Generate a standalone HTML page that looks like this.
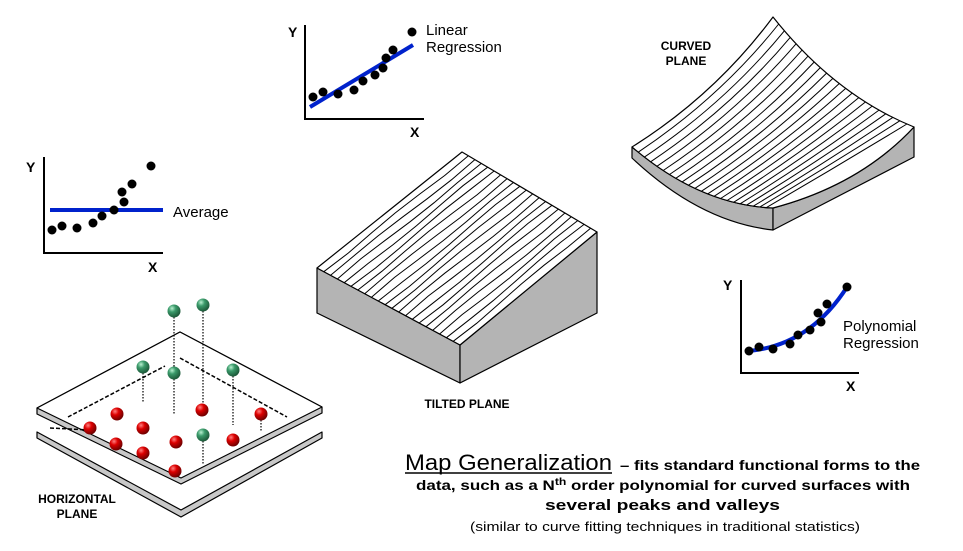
<!DOCTYPE html>
<html><head><meta charset="utf-8"><style>
html,body{margin:0;padding:0;background:#fff;}
svg{display:block;font-family:"Liberation Sans",Arial,sans-serif;}
</style></head><body>
<svg id="s" width="963" height="551" viewBox="0 0 963 551" xmlns="http://www.w3.org/2000/svg">
<defs>
<radialGradient id="gr" cx="0.35" cy="0.3" r="0.7"><stop offset="0" stop-color="#ff8080"/><stop offset="0.4" stop-color="#dd0000"/><stop offset="1" stop-color="#700000"/></radialGradient>
<radialGradient id="gg" cx="0.35" cy="0.3" r="0.7"><stop offset="0" stop-color="#b8f0d0"/><stop offset="0.4" stop-color="#3a9a6a"/><stop offset="1" stop-color="#1d5a3a"/></radialGradient>
</defs>

<g>
<polyline points="305,25 305,119 424,119" fill="none" stroke="#000" stroke-width="2"/>
<line x1="310" y1="107" x2="413" y2="45" stroke="#0022cc" stroke-width="4"/>
<g fill="#000">
<circle cx="313" cy="97" r="4.5"/><circle cx="323" cy="92" r="4.5"/><circle cx="338" cy="94" r="4.5"/><circle cx="354" cy="90" r="4.5"/><circle cx="363" cy="81" r="4.5"/><circle cx="375" cy="75" r="4.5"/><circle cx="383" cy="68" r="4.5"/><circle cx="386" cy="58" r="4.5"/><circle cx="393" cy="50" r="4.5"/><circle cx="412" cy="32" r="4.5"/>
</g>
<text x="288" y="37" font-size="14" font-weight="bold">Y</text>
<text x="410" y="137" font-size="14" font-weight="bold">X</text>
<text x="426" y="35" font-size="15">Linear</text>
<text x="426" y="52" font-size="15">Regression</text>
</g>

<g>
<polyline points="44,157 44,253 163,253" fill="none" stroke="#000" stroke-width="2"/>
<line x1="50" y1="210" x2="163" y2="210" stroke="#0022cc" stroke-width="4"/>
<g fill="#000">
<circle cx="52" cy="230" r="4.5"/><circle cx="62" cy="226" r="4.5"/><circle cx="77" cy="228" r="4.5"/><circle cx="93" cy="223" r="4.5"/><circle cx="102" cy="216" r="4.5"/><circle cx="114" cy="210" r="4.5"/><circle cx="124" cy="202" r="4.5"/><circle cx="122" cy="192" r="4.5"/><circle cx="132" cy="184" r="4.5"/><circle cx="151" cy="166" r="4.5"/>
</g>
<text x="26" y="172" font-size="14" font-weight="bold">Y</text>
<text x="148" y="272" font-size="14" font-weight="bold">X</text>
<text x="173" y="217" font-size="15">Average</text>
</g>

<g>
<polyline points="741,280 741,373 859,373" fill="none" stroke="#000" stroke-width="2"/>
<path d="M749,351 Q810,345 847,287" fill="none" stroke="#0022cc" stroke-width="4"/>
<g fill="#000">
<circle cx="749" cy="351" r="4.5"/><circle cx="759" cy="347" r="4.5"/><circle cx="773" cy="349" r="4.5"/><circle cx="790" cy="344" r="4.5"/><circle cx="798" cy="335" r="4.5"/><circle cx="810" cy="330" r="4.5"/><circle cx="821" cy="322" r="4.5"/><circle cx="818" cy="313" r="4.5"/><circle cx="827" cy="304" r="4.5"/><circle cx="847" cy="287" r="4.5"/>
</g>
<text x="723" y="290" font-size="14" font-weight="bold">Y</text>
<text x="846" y="391" font-size="14" font-weight="bold">X</text>
<text x="843" y="331" font-size="15">Polynomial</text>
<text x="843" y="348" font-size="15">Regression</text>
</g>

<g stroke="#000" stroke-width="1.2" stroke-linejoin="round">
<polygon points="317,268 460,345 460,383 317,313" fill="#b4b4b4"/>
<polygon points="460,345 597,232 597,313 460,383" fill="#b4b4b4"/>
<polygon points="317,268 462,152 597,232 460,345" fill="#fff"/>
</g>
<g id="tilt" stroke="#000" stroke-width="1" fill="none"></g>

<g stroke="#000" stroke-width="1.2" stroke-linejoin="round">
<path d="M632,147 Q700,205 773,208 L773,230 Q700,222 632,158 Z" fill="#b4b4b4"/>
<path d="M773,208 Q860,185 914,127 L914,157 L773,230 Z" fill="#b4b4b4"/>
<path d="M632,147 Q715,95 773,17 Q835,95 914,127 Q860,185 773,208 Q700,205 632,147 Z" fill="#fff"/>
</g>
<g id="curv" stroke="#000" stroke-width="1" fill="none"></g>

<g stroke="#000" stroke-width="1.2" stroke-linejoin="round">
<polygon points="37,432 181,510 322,432 322,438 181,517 37,438" fill="#c8c8c8"/>
<polygon points="37,408 180,332 322,407 322,413 181,484 37,414" fill="#c8c8c8"/>
<polygon points="37,408 180,332 322,407 181,478" fill="#fff"/>
</g>
<g stroke="#000" stroke-width="1.5" stroke-dasharray="4,2" fill="none">
<line x1="68" y1="417" x2="165" y2="366"/>
<line x1="180" y1="358" x2="287" y2="417"/>
<line x1="50" y1="428" x2="90" y2="430"/>
</g>
<g stroke="#000" stroke-width="1.2" stroke-dasharray="1.5,1.5">
<line x1="174" y1="311" x2="174" y2="373"/>
<line x1="203" y1="305" x2="203" y2="410"/>
<line x1="143" y1="367" x2="143" y2="402"/>
<line x1="174" y1="373" x2="174" y2="415"/>
<line x1="233" y1="370" x2="233" y2="425"/>
<line x1="203" y1="435" x2="203" y2="465"/>
<line x1="261" y1="414" x2="261" y2="432"/>
</g>
<g>
<circle cx="117" cy="414" r="6.5" fill="url(#gr)"/><circle cx="143" cy="428" r="6.5" fill="url(#gr)"/><circle cx="202" cy="410" r="6.5" fill="url(#gr)"/><circle cx="261" cy="414" r="6.5" fill="url(#gr)"/><circle cx="90" cy="428" r="6.5" fill="url(#gr)"/><circle cx="116" cy="444" r="6.5" fill="url(#gr)"/><circle cx="143" cy="453" r="6.5" fill="url(#gr)"/><circle cx="176" cy="442" r="6.5" fill="url(#gr)"/><circle cx="233" cy="440" r="6.5" fill="url(#gr)"/><circle cx="175" cy="471" r="6.5" fill="url(#gr)"/>
<circle cx="174" cy="311" r="6.5" fill="url(#gg)"/><circle cx="203" cy="305" r="6.5" fill="url(#gg)"/><circle cx="143" cy="367" r="6.5" fill="url(#gg)"/><circle cx="174" cy="373" r="6.5" fill="url(#gg)"/><circle cx="233" cy="370" r="6.5" fill="url(#gg)"/><circle cx="203" cy="435" r="6.5" fill="url(#gg)"/>
</g>

<g font-size="12" font-weight="bold">
<text x="467" y="408" text-anchor="middle">TILTED PLANE</text>
<text x="686" y="50" text-anchor="middle">CURVED</text>
<text x="686" y="65" text-anchor="middle">PLANE</text>
<text x="77" y="503" text-anchor="middle">HORIZONTAL</text>
<text x="77" y="518" text-anchor="middle">PLANE</text>
</g>

<text x="405" y="470" font-size="22" textLength="207" lengthAdjust="spacingAndGlyphs">Map Generalization</text>
<line x1="405" y1="473" x2="612" y2="473" stroke="#000" stroke-width="1.5"/>
<text x="620" y="470" font-size="14" font-weight="bold" textLength="300" lengthAdjust="spacingAndGlyphs">– fits standard functional forms to the</text>
<text x="416" y="490" font-size="14" font-weight="bold" textLength="494" lengthAdjust="spacingAndGlyphs">data, such as a N<tspan font-size="10" dy="-5">th</tspan><tspan dy="5"> order polynomial for curved surfaces with</tspan></text>
<text x="545" y="510" font-size="15" font-weight="bold" textLength="235" lengthAdjust="spacingAndGlyphs">several peaks and valleys</text>
<text x="665" y="531" font-size="13" text-anchor="middle" textLength="390" lengthAdjust="spacingAndGlyphs">(similar to curve fitting techniques in traditional statistics)</text>
</svg>
<script>
(function(){
var ns="http://www.w3.org/2000/svg";
function L(a,b,t){return [a[0]+(b[0]-a[0])*t,a[1]+(b[1]-a[1])*t];}
function Q(a,c,b,t){var u=1-t;return [u*u*a[0]+2*u*t*c[0]+t*t*b[0],u*u*a[1]+2*u*t*c[1]+t*t*b[1]];}
var g=document.getElementById("tilt"),N=21;
for(var i=1;i<N;i++){var t=i/N;var p=L([317,268],[460,345],t),q=L([462,152],[597,232],t);
var d="M"+p[0].toFixed(1)+","+p[1].toFixed(1);
for(var k=1;k<=6;k++){var r=L(p,q,k/6);var w=(k<6)?Math.sin(i*1.3+k*1.1)*0.8:0;d+=" L"+(r[0]+w).toFixed(1)+","+(r[1]+w).toFixed(1);}
var e=document.createElementNS(ns,"path");e.setAttribute("d",d);g.appendChild(e);}
var c=document.getElementById("curv"),M=22;
for(var j=1;j<M;j++){var s=j/M;
var p=Q([632,147],[700,205],[773,208],s);var q=Q([773,17],[835,95],[914,127],s);
var m=L(p,q,0.5);
var e=document.createElementNS(ns,"path");e.setAttribute("d","M"+p[0].toFixed(1)+","+p[1].toFixed(1)+" Q"+(m[0]+12*(1-s)).toFixed(1)+","+(m[1]+10*(1-s)).toFixed(1)+" "+q[0].toFixed(1)+","+q[1].toFixed(1));c.appendChild(e);}
})();
</script>
</body></html>
